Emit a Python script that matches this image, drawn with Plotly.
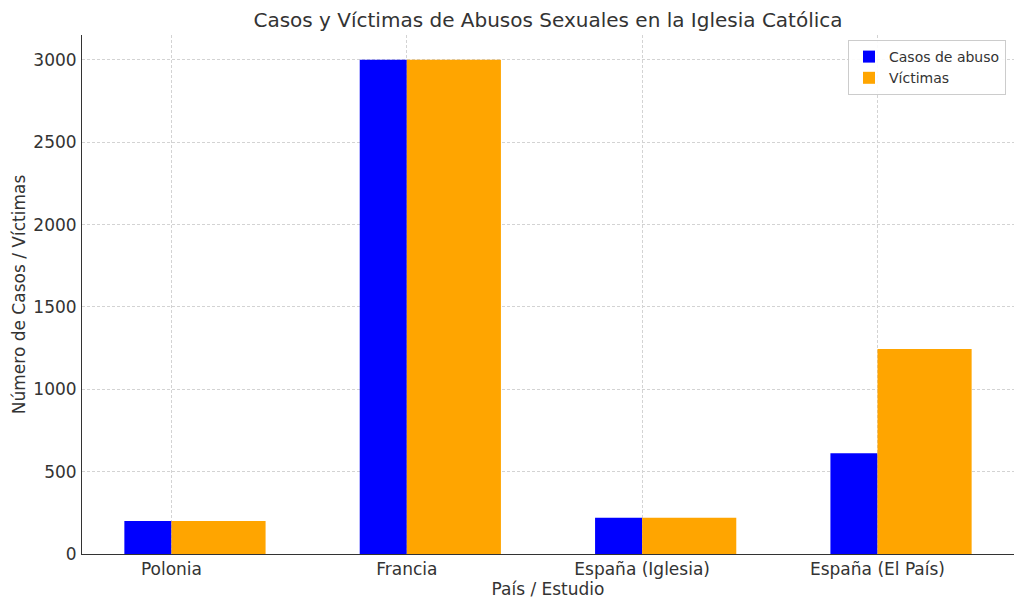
import plotly.graph_objects as go

categories = ["Polonia", "Francia", "España (Iglesia)", "España (El País)"]
casos = [200, 3000, 220, 611]
victimas = [200, 3000, 220, 1245]

W, H = 1024, 610
L, R, T, B = 82, 10, 35, 56

x_idx = list(range(len(categories)))
font = "DejaVu Sans"

fig = go.Figure()
fig.add_trace(go.Bar(
    x=[i - 0.1 for i in x_idx], y=casos, width=0.2, name="Casos de abuso",
    marker=dict(color="#0000ff", line=dict(width=0)),
))
fig.add_trace(go.Bar(
    x=[i + 0.2 for i in x_idx], y=victimas, width=0.4, name="Víctimas",
    marker=dict(color="#ffa500", line=dict(width=0)),
))

grid = dict(showgrid=True, gridcolor="#d3d3d3", griddash="3px,2px", gridwidth=1)
fig.update_layout(
    width=W, height=H,
    margin=dict(l=L, r=R, t=T, b=B),
    plot_bgcolor="white", paper_bgcolor="white",
    barmode="overlay",
    font=dict(family=font, color="#333333"),
    title=dict(text="Casos y Víctimas de Abusos Sexuales en la Iglesia Católica",
               x=(L + (W - R)) / 2 / W, xanchor="center", y=1 - 20 / H, yanchor="middle",
               font=dict(size=20, color="#333333")),
    xaxis=dict(range=[-0.38, 3.58], tickmode="array", tickvals=x_idx, ticktext=categories,
               showline=True, linecolor="#333333", linewidth=1, mirror=False,
               ticks="", ticklabelstandoff=0,
               tickfont=dict(size=17, color="#333333"),
               title=dict(text="País / Estudio", font=dict(size=17, color="#333333"), standoff=4),
               zeroline=False, layer="above traces", **grid),
    yaxis=dict(range=[0, 3151], tickmode="array", tickvals=[0, 500, 1000, 1500, 2000, 2500, 3000],
               showline=True, linecolor="#333333", linewidth=1,
               ticks="", ticklabelstandoff=1,
               tickfont=dict(size=17, color="#333333"),
               title=dict(text="Número de Casos / Víctimas", font=dict(size=17, color="#333333"), standoff=3),
               zeroline=False, layer="above traces", **grid),
    legend=dict(x=1 - 8 / (W - L - R), xanchor="right", y=1 - 5 / (H - T - B), yanchor="top",
                bgcolor="rgba(255,255,255,0.9)", bordercolor="#cccccc", borderwidth=1,
                font=dict(size=14, color="#333333"), traceorder="normal", tracegroupgap=0),
    showlegend=True,
)

fig.write_html("out.html")
